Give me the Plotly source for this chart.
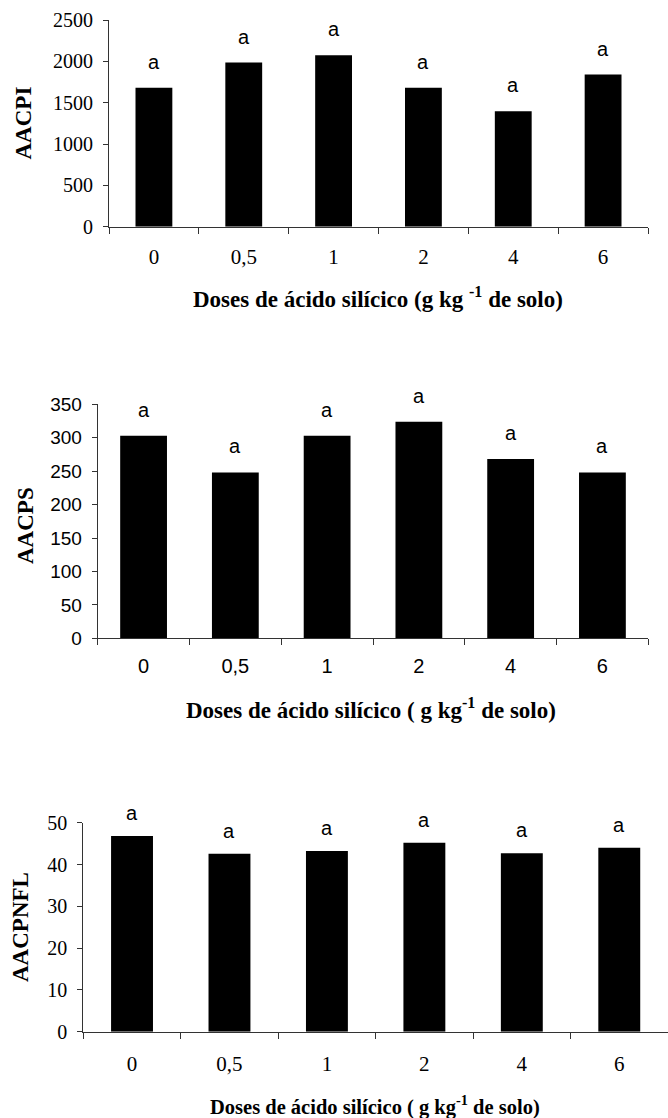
import plotly.graph_objects as go

# Silicic acid doses (g kg-1 of soil)
doses = ["0", "0,5", "1", "2", "4", "6"]

# Area under the disease progress curve for each variable
aacpi = [1680, 1985, 2075, 1680, 1395, 1840]
aacps = [303, 248, 303, 324, 268, 248]
aacpnfl = [46.8, 42.6, 43.2, 45.2, 42.7, 44.0]

# Mean-comparison letters
letters_aacpi = ["a", "a", "a", "a", "a", "a"]
letters_aacps = ["a", "a", "a", "a", "a", "a"]
letters_aacpnfl = ["a", "a", "a", "a", "a", "a"]

SERIF = "Liberation Serif"
SANS = "Liberation Sans"
AXIS_COLOR = "#333333"

W, H = 668, 1118


def px_x(p):
    return p / W


def px_y(p):
    return 1 - p / H


panels = [
    dict(values=aacpi, letters=letters_aacpi, ymax=2500, dtick=500,
         xdom=(109, 648), ydom=(20, 226.7), tickfont=SERIF, yfs=20, xfs=21,
         gap=0.59, shift=13, xstand=11, ytitle="AACPI", ytx=23, yty=123.5,
         xtitle="Doses de ácido silícico (g kg <sup>-1</sup> de solo)",
         xtx=378, xty=297, xtfs=23),
    dict(values=aacps, letters=letters_aacps, ymax=350, dtick=50,
         xdom=(97.7, 648.3), ydom=(404.3, 638.3), tickfont=SANS, yfs=19, xfs=20,
         gap=0.49, shift=13, xstand=10, ytitle="AACPS", ytx=25, yty=525,
         xtitle="Doses de ácido silícico ( g kg<sup>-1</sup> de solo)",
         xtx=371, xty=708, xtfs=23),
    dict(values=aacpnfl, letters=letters_aacpnfl, ymax=50, dtick=10,
         xdom=(83.3, 668), ydom=(822.7, 1031.7), tickfont=SERIF, yfs=20, xfs=21,
         gap=0.57, shift=10, xstand=13, ytitle="AACPNFL", ytx=20, yty=927,
         xtitle="Doses de ácido silícico ( g kg<sup>-1</sup> de solo)",
         xtx=375, xty=1105, xtfs=20.5),
]

fig = go.Figure()
annotations = []
layout = {}

for i, p in enumerate(panels, start=1):
    sfx = "" if i == 1 else str(i)
    xref, yref = "x" + sfx, "y" + sfx
    fig.add_trace(go.Bar(
        x=doses, y=p["values"], xaxis=xref, yaxis=yref,
        marker=dict(color="black", line=dict(width=0)),
        width=1 - p["gap"], showlegend=False,
    ))
    layout["xaxis" + sfx] = dict(
        domain=[px_x(p["xdom"][0]), px_x(p["xdom"][1])],
        anchor=yref, type="category", range=[-0.5, 5.5],
        showline=True, linecolor=AXIS_COLOR, linewidth=1,
        ticks="outside", tickson="boundaries", ticklen=6,
        tickcolor=AXIS_COLOR, tickwidth=1,
        tickfont=dict(family=p["tickfont"], size=p["xfs"], color="black"),
        ticklabelstandoff=p["xstand"], showgrid=False, zeroline=False,
        automargin=False, fixedrange=True,
    )
    layout["yaxis" + sfx] = dict(
        domain=[px_y(p["ydom"][1]), px_y(p["ydom"][0])],
        anchor=xref, range=[0, p["ymax"]], dtick=p["dtick"], tick0=0,
        showline=True, linecolor=AXIS_COLOR, linewidth=1,
        ticks="outside", ticklen=5, tickcolor=AXIS_COLOR, tickwidth=1,
        tickfont=dict(family=p["tickfont"], size=p["yfs"], color="black"),
        ticklabelstandoff=6, showgrid=False, zeroline=False,
        automargin=False, fixedrange=True,
    )
    # letters above each bar (category index as position)
    for k, (v, t) in enumerate(zip(p["values"], p["letters"])):
        annotations.append(dict(
            x=k, y=v, xref=xref, yref=yref, text=t, showarrow=False,
            yanchor="bottom", yshift=p["shift"],
            font=dict(family=SANS, size=20, color="black"),
        ))
    annotations.append(dict(
        x=px_x(p["ytx"]), y=px_y(p["yty"]), xref="paper", yref="paper",
        text="<b>%s</b>" % p["ytitle"], textangle=-90, showarrow=False,
        xanchor="center", yanchor="middle",
        font=dict(family=SERIF, size=23, color="black"),
    ))
    annotations.append(dict(
        x=px_x(p["xtx"]), y=px_y(p["xty"]), xref="paper", yref="paper",
        text="<b>%s</b>" % p["xtitle"], showarrow=False,
        xanchor="center", yanchor="middle",
        font=dict(family=SERIF, size=p["xtfs"], color="black"),
    ))

fig.update_layout(
    width=W, height=H,
    margin=dict(l=0, r=0, t=0, b=0, pad=0, autoexpand=False),
    paper_bgcolor="white", plot_bgcolor="white",
    annotations=annotations, **layout,
)

fig.write_html("out.html", config={"displayModeBar": False})
